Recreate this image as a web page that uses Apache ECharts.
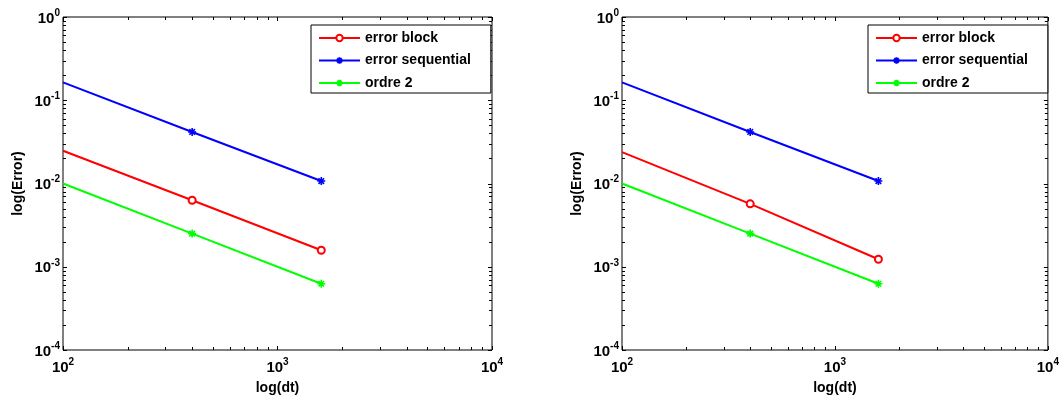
<!DOCTYPE html>
<html>
<head>
<meta charset="utf-8">
<script src="https://cdn.jsdelivr.net/npm/echarts@6/dist/echarts.min.js"></script>
<style>
  html, body { margin: 0; padding: 0; background: #fff; }
  #chart { width: 1062px; height: 401px; }
</style>
</head>
<body>
<div id="chart"></div>
<script>
// Time-step sizes
const dt = [100, 400, 1600];

// Left panel
const errorBlockLeft = [0.0247, 0.0063, 0.00158];
const errorSeqLeft = [0.164, 0.0416, 0.0107];
const ordre2Left = [0.0100, 0.0025, 0.000625];

// Right panel
const errorBlockRight = [0.0238, 0.0057, 0.00123];
const errorSeqRight = [0.164, 0.0416, 0.0107];
const ordre2Right = [0.0100, 0.0025, 0.000625];

// Axis ranges (decades) and tick mantissas used within each decade
const xRange = [1e2, 1e4];
const yRange = [1e-4, 1e0];
const tickMantissas = [1, 2, 3, 4, 5, 6, 7, 8, 9];

const seriesNames = ['error block', 'error sequential', 'ordre 2'];
const FONT = '"Liberation Sans", Arial, Helvetica, sans-serif';

function decadeTicks(range) {
  const out = [];
  const e0 = Math.round(Math.log10(range[0]));
  const e1 = Math.round(Math.log10(range[1]));
  for (let e = e0; e < e1; e++) {
    for (const m of tickMantissas) out.push(m * Math.pow(10, e));
  }
  out.push(range[1]);
  return out;
}

function isMajor(v) {
  const l = Math.log10(v);
  return Math.abs(l - Math.round(l)) < 1e-9;
}

function powLabel(v) {
  const e = Math.round(Math.log10(v));
  return '{b|10}{s|' + e + '}';
}

const richPow = {
  b: { fontFamily: FONT, fontWeight: 'bold', fontSize: 15, color: '#000', lineHeight: 18, verticalAlign: 'bottom' },
  s: { fontFamily: FONT, fontWeight: 'bold', fontSize: 10, color: '#000', lineHeight: 18, verticalAlign: 'top' }
};

// Asterisk marker drawn as a stroked path
const asterisk = 'path://M-4,0L4,0M0,-4L0,4M-2.8,-2.8L2.8,2.8M-2.8,2.8L2.8,-2.8';

const panels = [
  { left: 63, width: 429, block: errorBlockLeft, seq: errorSeqLeft, o2: ordre2Left, legendLeft: 311 },
  { left: 622, width: 429, block: errorBlockRight, seq: errorSeqRight, o2: ordre2Right, legendLeft: 868 }
];

const grid = [], xAxis = [], yAxis = [], series = [], legend = [];

function xTickRender(params, api) {
  const cs = params.coordSys;
  const v = api.value(0);
  const px = Math.round(api.coord([v, api.value(1)])[0]) + 0.5;
  const len = isMajor(v) ? 4 : 3;
  const bottom = cs.y + cs.height, top = cs.y;
  const style = { stroke: '#000', lineWidth: 1 };
  return {
    type: 'group', silent: true,
    children: [
      { type: 'line', shape: { x1: px, y1: bottom, x2: px, y2: bottom - len }, style },
      { type: 'line', shape: { x1: px, y1: top, x2: px, y2: top + len }, style }
    ]
  };
}

function yTickRender(params, api) {
  const cs = params.coordSys;
  const v = api.value(1);
  const py = Math.round(api.coord([api.value(0), v])[1]) + 0.5;
  const len = isMajor(v) ? 4 : 3;
  const left = cs.x, right = cs.x + cs.width;
  const style = { stroke: '#000', lineWidth: 1 };
  return {
    type: 'group', silent: true,
    children: [
      { type: 'line', shape: { x1: left, y1: py, x2: left + len, y2: py }, style },
      { type: 'line', shape: { x1: right, y1: py, x2: right - len, y2: py }, style }
    ]
  };
}

panels.forEach((p, i) => {
  grid.push({
    left: p.left, top: 17, width: p.width, height: 333,
    show: true, borderColor: '#000', borderWidth: 1, backgroundColor: '#fff'
  });
  xAxis.push({
    type: 'log', logBase: 10, gridIndex: i, min: xRange[0], max: xRange[1],
    name: 'log(dt)', nameLocation: 'middle', nameGap: 31,
    nameTextStyle: { fontFamily: FONT, fontWeight: 'bold', fontSize: 14, color: '#000' },
    axisLine: { show: false }, axisTick: { show: false }, splitLine: { show: false },
    minorTick: { show: false },
    axisLabel: { formatter: powLabel, rich: richPow, margin: 7, showMinLabel: true, showMaxLabel: true }
  });
  yAxis.push({
    type: 'log', logBase: 10, gridIndex: i, min: yRange[0], max: yRange[1],
    name: 'log(Error)', nameLocation: 'middle', nameGap: 38, nameRotate: 90,
    nameTextStyle: { fontFamily: FONT, fontWeight: 'bold', fontSize: 14, color: '#000' },
    axisLine: { show: false }, axisTick: { show: false }, splitLine: { show: false },
    axisLabel: { formatter: powLabel, rich: richPow, margin: 3, showMinLabel: true, showMaxLabel: true }
  });

  const lines = [
    { name: seriesNames[0], data: p.block, color: '#ff0000', symbol: 'emptyCircle', size: 7 },
    { name: seriesNames[1], data: p.seq, color: '#0000ff', symbol: asterisk, size: 8 },
    { name: seriesNames[2], data: p.o2, color: '#00ff00', symbol: asterisk, size: 8 }
  ];
  lines.forEach(l => {
    series.push({
      type: 'line', name: l.name, xAxisIndex: i, yAxisIndex: i,
      // the point on the left frame edge carries no marker
      data: dt.map((x, k) => (k === 0 ? { value: [x, l.data[k]], symbol: 'none' } : [x, l.data[k]])),
      symbol: l.symbol, symbolSize: l.size, showAllSymbol: true,
      color: l.color,
      lineStyle: { color: l.color, width: 2 },
      itemStyle: { color: l.color, borderColor: l.color, borderWidth: 1.6 },
      emphasis: { disabled: true },
      animation: false, z: 3
    });
  });

  series.push({
    type: 'custom', xAxisIndex: i, yAxisIndex: i, silent: true, animation: false, z: 2,
    renderItem: xTickRender,
    data: decadeTicks(xRange).map(v => [v, 0.01])
  });
  series.push({
    type: 'custom', xAxisIndex: i, yAxisIndex: i, silent: true, animation: false, z: 2,
    renderItem: yTickRender,
    data: decadeTicks(yRange).map(v => [1000, v])
  });

  legend.push({
    data: seriesNames,
    orient: 'vertical', left: p.legendLeft, top: 25,
    padding: [6, 20, 3, 7], itemGap: 8.5, itemWidth: 41, itemHeight: 8,
    borderColor: '#000', borderWidth: 1, backgroundColor: '#fff', borderRadius: 0,
    textStyle: { fontFamily: FONT, fontWeight: 'bold', fontSize: 14, color: '#000' },
    selectedMode: false
  });
});

const chart = echarts.init(document.getElementById('chart'), null, { renderer: 'canvas' });
chart.setOption({
  backgroundColor: '#fff',
  animation: false,
  grid, xAxis, yAxis, legend, series
});
</script>
</body>
</html>
